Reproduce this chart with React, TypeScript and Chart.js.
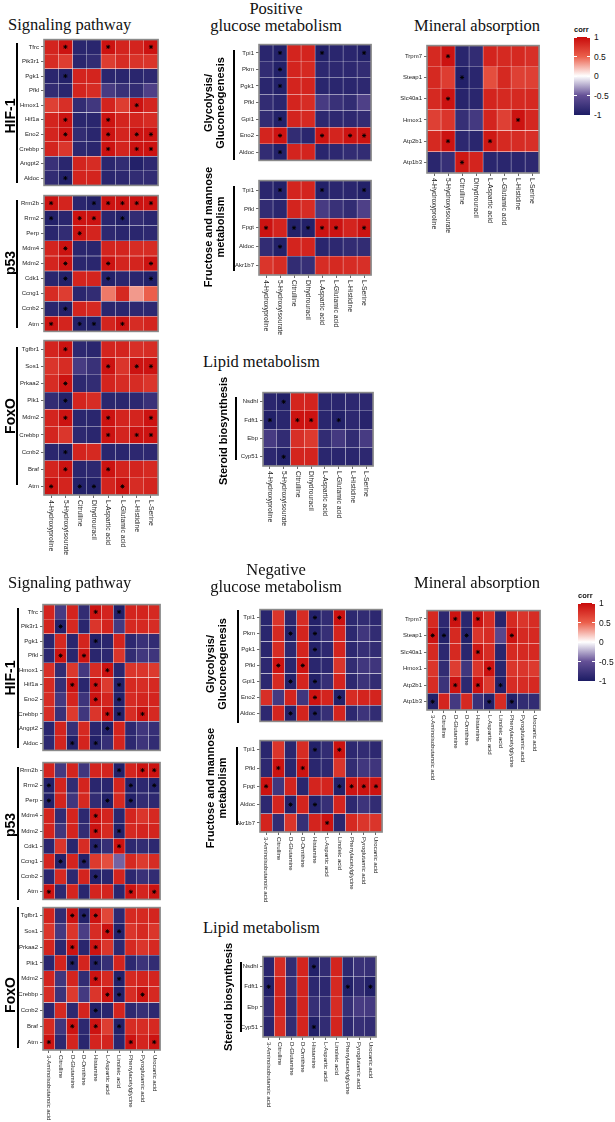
import React, { useEffect, useRef } from 'react';
import { Chart, registerables } from 'chart.js';

Chart.register(...registerables);
Chart.defaults.font.family = '"Liberation Sans", Arial, sans-serif';

// ---------- categories ----------
const posCols = ['4-Hydroxyproline', '5-Hydroxyisourate', 'Citrulline', 'Dihydrouracil', 'L-Aspartic acid', 'L-Glutamic acid', 'L-Histidine', 'L-Serine'];
const negCols = ['3-Aminoisobutanoic acid', 'Citrulline', 'D-Glutamine', 'D-Ornithine', 'Histamine', 'L-Aspartic acid', 'Linoleic acid', 'Phenylacetylglycine', 'Pyroglutamic acid', 'Urocanic acid'];

const hif1Genes = ['Tfrc', 'Pik3r1', 'Pgk1', 'Pfkl', 'Hmox1', 'Hif1a', 'Eno2', 'Crebbp', 'Angpt2', 'Aldoc'];
const p53Genes = ['Rrm2b', 'Rrm2', 'Perp', 'Mdm4', 'Mdm2', 'Cdk1', 'Ccng1', 'Ccnb2', 'Atm'];
const foxoGenes = ['Tgfbr1', 'Sos1', 'Prkaa2', 'Plk1', 'Mdm2', 'Crebbp', 'Ccnb2', 'Braf', 'Atm'];
const glyGenes = ['Tpi1', 'Pkm', 'Pgk1', 'Pfkl', 'Gpi1', 'Eno2', 'Aldoc'];
const fruGenes = ['Tpi1', 'Pfkl', 'Fpgt', 'Aldoc', 'Akr1b7'];
const sterGenes = ['Nsdhl', 'Fdft1', 'Ebp', 'Cyp51'];
const minGenes = ['Trpm7', 'Steap1', 'Slc40a1', 'Hmox1', 'Atp2b1', 'Atp1b3'];

const legendTicks = [1, 0.5, 0, -0.5, -1];

// ---------- positive correlations ----------
const posHif1Values = [
  [0.85, 0.95, -0.9, -0.9, 0.95, 0.85, 0.85, 0.95],
  [0.8, 0.7, -0.9, -0.85, 0.7, 0.8, 0.76, 0.75],
  [-0.9, -0.95, 0.85, 0.85, -0.9, -0.9, -0.9, -0.88],
  [-0.85, -0.9, 0.85, 0.8, -0.7, -0.8, -0.85, -0.65],
  [0.68, 0.78, -0.85, -0.74, 0.85, 0.7, 0.95, 0.84],
  [0.85, 0.95, -0.9, -0.9, 0.95, 0.85, 0.85, 0.8],
  [0.85, 0.95, -0.85, -0.9, 0.95, 0.85, 0.95, 0.95],
  [0.84, 0.74, -0.88, -0.9, 0.95, 0.85, 0.95, 0.95],
  [-0.8, -0.9, 0.85, 0.8, -0.9, -0.85, -0.95, -0.88],
  [-0.85, -0.95, 0.85, 0.85, -0.9, -0.88, -0.85, -0.85],
];
const posHif1Stars = [[1, 4, 7], [], [1], [], [6], [1, 4], [1, 4, 6, 7], [4, 6, 7], [], [1]];

const posP53Values = [
  [0.95, 0.85, -0.9, -0.95, 0.95, 0.95, 0.95, 0.95],
  [-0.95, -0.9, 0.95, 0.95, -0.9, -0.95, -0.85, -0.9],
  [-0.9, -0.85, 0.95, 0.85, -0.88, -0.9, -0.9, -0.88],
  [0.85, 0.95, -0.9, -0.9, 0.85, 0.85, 0.8, 0.8],
  [0.85, 0.95, -0.9, -0.9, 0.95, 0.85, 0.85, 0.95],
  [-0.9, -0.95, 0.85, 0.85, -0.95, -0.9, -0.9, -0.95],
  [0.8, 0.7, -0.9, -0.85, 0.42, 0.82, 0.32, 0.5],
  [-0.9, -0.95, 0.85, 0.82, -0.9, -0.9, -0.88, -0.88],
  [0.95, 0.85, -0.95, -0.95, 0.85, 0.95, 0.8, 0.85],
];
const posP53Stars = [[0, 3, 4, 5, 6, 7], [0, 2, 3, 5], [2], [1], [1, 4, 7], [1, 4, 7], [], [1], [0, 2, 3, 5]];

const posFoxoValues = [
  [0.85, 0.95, -0.88, -0.9, 0.85, 0.85, 0.78, 0.8],
  [0.75, 0.8, -0.7, -0.8, 0.95, 0.75, 0.95, 0.95],
  [0.8, 0.95, -0.88, -0.85, 0.85, 0.8, 0.8, 0.75],
  [-0.85, -0.95, 0.85, 0.8, -0.9, -0.9, -0.88, -0.8],
  [0.85, 0.95, -0.9, -0.9, 0.95, 0.85, 0.85, 0.95],
  [0.84, 0.74, -0.88, -0.9, 0.95, 0.85, 0.95, 0.95],
  [-0.9, -0.95, 0.85, 0.82, -0.9, -0.9, -0.88, -0.88],
  [0.85, 0.95, -0.9, -0.88, 0.95, 0.85, 0.85, 0.82],
  [0.95, 0.85, -0.95, -0.95, 0.85, 0.95, 0.8, 0.85],
];
const posFoxoStars = [[1], [4, 6, 7], [1], [1], [1, 4, 7], [4, 6, 7], [1], [1, 4], [0, 2, 3, 5]];

const posGlyValues = [
  [-0.9, -0.95, 0.85, 0.85, -0.95, -0.9, -0.9, -0.95],
  [-0.85, -0.95, 0.85, 0.82, -0.88, -0.88, -0.88, -0.85],
  [-0.9, -0.95, 0.85, 0.85, -0.9, -0.9, -0.9, -0.88],
  [-0.85, -0.9, 0.85, 0.8, -0.7, -0.8, -0.85, -0.65],
  [-0.85, -0.95, 0.85, 0.82, -0.88, -0.88, -0.88, -0.85],
  [0.85, 0.95, -0.85, -0.9, 0.95, 0.85, 0.95, 0.95],
  [-0.85, -0.95, 0.85, 0.85, -0.9, -0.88, -0.85, -0.85],
];
const posGlyStars = [[1, 4, 7], [1], [1], [], [1], [1, 4, 6, 7], [1]];

const posFruValues = [
  [-0.9, -0.95, 0.85, 0.85, -0.95, -0.9, -0.9, -0.95],
  [-0.85, -0.9, 0.85, 0.8, -0.7, -0.8, -0.85, -0.65],
  [0.95, 0.85, -0.95, -0.95, 0.95, 0.95, 0.85, 0.95],
  [-0.85, -0.95, 0.85, 0.85, -0.9, -0.88, -0.85, -0.85],
  [0.75, 0.8, -0.85, -0.82, 0.8, 0.82, 0.8, 0.78],
];
const posFruStars = [[1, 4, 7], [], [0, 2, 3, 4, 5, 7], [1], []];

const posSterValues = [
  [-0.9, -0.95, 0.85, 0.85, -0.9, -0.9, -0.88, -0.88],
  [-0.95, -0.9, 0.95, 0.95, -0.9, -0.95, -0.88, -0.92],
  [-0.7, -0.85, 0.78, 0.72, -0.85, -0.72, -0.85, -0.7],
  [-0.88, -0.95, 0.85, 0.85, -0.9, -0.9, -0.9, -0.88],
];
const posSterStars = [[1], [0, 2, 3, 5], [], [1]];

const posMinValues = [
  [0.82, 0.95, -0.9, -0.85, 0.85, 0.82, 0.82, 0.78],
  [0.82, 0.7, -0.95, -0.9, 0.6, 0.82, 0.68, 0.68],
  [0.82, 0.95, -0.92, -0.9, 0.85, 0.82, 0.82, 0.82],
  [0.68, 0.75, -0.82, -0.72, 0.85, 0.68, 0.95, 0.83],
  [0.82, 0.95, -0.88, -0.9, 0.92, 0.82, 0.8, 0.78],
  [-0.9, -0.82, 0.92, 0.85, -0.9, -0.9, -0.9, -0.88],
];
const posMinStars = [[1], [2], [1], [6], [1, 4], [2]];

// ---------- negative correlations ----------
const negHif1Values = [
  [0.85, -0.7, 0.85, -0.85, 0.95, 0.85, -0.95, 0.85, 0.85, 0.82],
  [0.85, -0.95, 0.82, -0.9, 0.75, 0.85, -0.72, 0.82, 0.82, 0.8],
  [-0.9, 0.82, -0.9, 0.85, -0.95, -0.9, 0.85, -0.88, -0.8, -0.85],
  [-0.88, 0.95, -0.9, 0.95, -0.9, -0.88, 0.75, -0.85, -0.74, -0.76],
  [0.78, -0.85, 0.73, -0.73, 0.8, 0.95, -0.9, 0.75, 0.75, 0.72],
  [0.82, -0.82, 0.95, -0.9, 0.95, 0.72, -0.95, 0.82, 0.8, 0.82],
  [0.8, -0.72, 0.85, -0.77, 0.95, 0.85, -0.95, 0.81, 0.85, 0.85],
  [0.8, -0.8, 0.72, -0.75, 0.75, 0.95, -0.95, 0.8, 0.95, 0.82],
  [-0.9, 0.85, -0.82, 0.82, -0.9, -0.95, 0.85, -0.88, -0.75, -0.82],
  [-0.88, 0.85, -0.95, 0.85, -0.95, -0.82, 0.85, -0.88, -0.77, -0.85],
];
const negHif1Stars = [[4, 6], [1], [4], [1, 3], [5], [2, 4, 6], [4, 6], [5, 6, 8], [5], [2, 4]];

const negP53Values = [
  [0.85, -0.72, 0.85, -0.75, 0.85, 0.85, -0.95, 0.85, 0.95, 0.95],
  [-0.95, 0.85, -0.85, 0.85, -0.9, -0.9, 0.85, -0.95, -0.88, -0.95],
  [-0.95, 0.85, -0.75, 0.82, -0.85, -0.95, 0.82, -0.95, -0.85, -0.88],
  [0.85, -0.85, 0.85, -0.88, 0.95, 0.85, -0.9, 0.85, 0.75, 0.82],
  [0.85, -0.75, 0.85, -0.85, 0.95, 0.82, -0.95, 0.82, 0.85, 0.85],
  [-0.9, 0.75, -0.9, 0.8, -0.95, -0.82, 0.95, -0.88, -0.85, -0.88],
  [0.85, -0.95, 0.85, -0.95, 0.72, 0.6, -0.45, 0.82, 0.72, 0.8],
  [-0.9, 0.82, -0.88, 0.85, -0.95, -0.9, 0.85, -0.88, -0.8, -0.85],
  [0.95, -0.88, 0.85, -0.9, 0.85, 0.85, -0.9, 0.95, 0.85, 0.95],
];
const negP53Stars = [[6, 8, 9], [0, 7, 9], [0, 5, 7], [4], [4, 6], [4, 6], [1, 3], [4], [0, 7, 9]];

const negFoxoValues = [
  [0.85, -0.85, 0.95, -0.95, 0.95, 0.65, -0.88, 0.82, 0.82, 0.85],
  [0.75, -0.72, 0.75, -0.68, 0.8, 0.95, -0.95, 0.75, 0.82, 0.75],
  [0.85, -0.88, 0.95, -0.9, 0.95, 0.75, -0.88, 0.82, 0.75, 0.82],
  [-0.9, 0.85, -0.95, 0.85, -0.95, -0.82, 0.85, -0.88, -0.78, -0.85],
  [0.85, -0.75, 0.85, -0.85, 0.95, 0.82, -0.95, 0.82, 0.85, 0.85],
  [0.8, -0.78, 0.72, -0.72, 0.75, 0.95, -0.95, 0.8, 0.95, 0.82],
  [-0.9, 0.82, -0.88, 0.85, -0.95, -0.9, 0.85, -0.88, -0.82, -0.88],
  [0.82, -0.75, 0.95, -0.88, 0.95, 0.7, -0.95, 0.8, 0.8, 0.82],
  [0.95, -0.88, 0.85, -0.9, 0.85, 0.85, -0.9, 0.95, 0.85, 0.95],
];
const negFoxoStars = [[2, 3, 4], [5, 6], [2, 4], [2, 4], [4, 6], [5, 6, 8], [4], [2, 4, 6], [0, 7, 9]];

const negGlyValues = [
  [-0.9, 0.75, -0.9, 0.8, -0.95, -0.85, 0.95, -0.88, -0.85, -0.88],
  [-0.9, 0.82, -0.95, 0.85, -0.95, -0.82, 0.85, -0.88, -0.75, -0.85],
  [-0.9, 0.8, -0.88, 0.85, -0.95, -0.88, 0.85, -0.88, -0.82, -0.85],
  [-0.88, 0.95, -0.9, 0.95, -0.9, -0.88, 0.75, -0.85, -0.74, -0.76],
  [-0.88, 0.82, -0.95, 0.85, -0.95, -0.82, 0.85, -0.88, -0.78, -0.85],
  [0.78, -0.72, 0.85, -0.75, 0.95, 0.85, -0.95, 0.8, 0.85, 0.85],
  [-0.88, 0.85, -0.95, 0.85, -0.95, -0.82, 0.85, -0.88, -0.77, -0.85],
];
const negGlyStars = [[4, 6], [2, 4], [4], [1, 3], [2, 4], [4, 6], [2, 4]];

const negFruValues = [
  [-0.9, 0.75, -0.9, 0.8, -0.95, -0.85, 0.95, -0.88, -0.85, -0.88],
  [-0.88, 0.95, -0.9, 0.95, -0.9, -0.88, 0.75, -0.85, -0.74, -0.76],
  [0.95, -0.75, 0.85, -0.9, 0.85, 0.85, -0.95, 0.95, 0.95, 0.95],
  [-0.88, 0.85, -0.95, 0.85, -0.95, -0.82, 0.85, -0.88, -0.77, -0.85],
  [0.85, -0.85, 0.75, -0.82, 0.85, 0.95, -0.9, 0.82, 0.75, 0.75],
];
const negFruStars = [[4, 6], [1, 3], [0, 6, 7, 8, 9], [2, 4], [5]];

const negSterValues = [
  [-0.9, 0.8, -0.85, 0.85, -0.95, -0.85, 0.85, -0.88, -0.8, -0.82],
  [-0.95, 0.85, -0.82, 0.85, -0.88, -0.88, 0.82, -0.95, -0.85, -0.95],
  [-0.85, 0.85, -0.85, 0.85, -0.82, -0.85, 0.8, -0.82, -0.7, -0.72],
  [-0.9, 0.8, -0.85, 0.85, -0.95, -0.85, 0.85, -0.88, -0.82, -0.85],
];
const negSterStars = [[4], [0, 7, 9], [], [4]];

const negMinValues = [
  [0.82, -0.88, 0.95, -0.9, 0.95, 0.8, -0.92, 0.82, 0.75, 0.8],
  [0.95, -0.95, 0.82, -0.95, 0.75, 0.8, -0.6, 0.95, 0.82, 0.82],
  [0.82, -0.88, 0.82, -0.9, 0.92, 0.8, -0.9, 0.82, 0.82, 0.82],
  [0.75, -0.85, 0.7, -0.75, 0.75, 0.95, -0.9, 0.75, 0.75, 0.72],
  [0.8, -0.78, 0.95, -0.88, 0.95, 0.72, -0.95, 0.8, 0.8, 0.82],
  [-0.95, 0.85, -0.72, 0.82, -0.8, -0.95, 0.8, -0.95, -0.85, -0.85],
];
const negMinStars = [[2, 4], [0, 1, 3, 7], [4], [5], [2, 4, 6], [0, 5, 7]];

// ---------- colour scale ----------
const STOPS: [number, number[]][] = [
  [-1, [28, 28, 100]],
  [-0.5, [100, 80, 150]],
  [0, [255, 255, 255]],
  [0.5, [235, 95, 75]],
  [1, [200, 10, 10]],
];
function corrColor(v: number): string {
  for (let k = 0; k < STOPS.length - 1; k++) {
    const [a, ca] = STOPS[k];
    const [b, cb] = STOPS[k + 1];
    if (v >= a && v <= b) {
      const t = (v - a) / (b - a);
      const c = ca.map((x, i) => Math.round(x + (cb[i] - x) * t));
      return `rgb(${c[0]},${c[1]},${c[2]})`;
    }
  }
  return v < 0 ? 'rgb(28,28,100)' : 'rgb(200,10,10)';
}

const SANS = '"Liberation Sans", Arial, sans-serif';
const SERIF = '"Liberation Serif", "Times New Roman", serif';

const framePlugin = {
  id: 'hmFrame',
  afterDatasetsDraw(chart: any) {
    const { ctx, chartArea: a } = chart;
    ctx.save();
    ctx.strokeStyle = '#8a8a8a';
    ctx.lineWidth = 1.6;
    ctx.strokeRect(a.left, a.top, a.right - a.left, a.bottom - a.top);
    ctx.restore();
  },
  afterDraw(chart: any, _args: any, opts: any) {
    if (!opts || !opts.show) return;
    const { ctx, chartArea: a } = chart;
    const xs = chart.scales.x;
    ctx.save();
    ctx.fillStyle = '#222';
    ctx.font = `${opts.font}px ${SANS}`;
    ctx.textAlign = 'left';
    ctx.textBaseline = 'middle';
    (opts.cols as string[]).forEach((c, j) => {
      const x = xs.getPixelForValue(j + 0.5);
      ctx.save();
      ctx.translate(x, a.bottom + 5);
      ctx.rotate(Math.PI / 2);
      ctx.fillText(c, 0, 0);
      ctx.restore();
    });
    ctx.restore();
  },
};

type HMProps = {
  genes: string[]; cols: string[]; values: number[][]; stars: number[][];
  left: number; top: number; w: number; h: number; showX: boolean; yFont: number; xFont: number;
};

function Heatmap(p: HMProps) {
  const ref = useRef<HTMLCanvasElement>(null);
  const YW = 48, PAD = 3, XH = 80;
  const cw = p.w + YW + PAD;
  const ch = p.h + PAD + (p.showX ? XH : PAD);
  useEffect(() => {
    if (!ref.current) return;
    const starPts: { x: number; y: string }[] = [];
    p.stars.forEach((row, i) => row.forEach((j) => starPts.push({ x: j + 0.5, y: p.genes[i] })));
    const datasets: any[] = [
      {
        type: 'scatter', data: starPts, order: -1, pointStyle: 'star', radius: 2.1,
        borderColor: '#000', backgroundColor: '#000', borderWidth: 0.9,
      },
    ];
    p.cols.forEach((_c, j) => {
      datasets.push({
        type: 'bar',
        data: p.genes.map(() => [j, j + 1]),
        backgroundColor: p.genes.map((_g, i) => corrColor(p.values[i][j])),
        borderColor: 'rgba(255,255,255,0.14)', borderWidth: 0.5, borderSkipped: false,
        grouped: false, barPercentage: 1, categoryPercentage: 1,
      });
    });
    const chart = new Chart(ref.current, {
      type: 'bar',
      data: { labels: p.genes, datasets },
      options: {
        indexAxis: 'y', responsive: false, animation: false, events: [],
        layout: { padding: { top: PAD, right: PAD, left: 0, bottom: 0 } },
        plugins: {
          legend: { display: false }, tooltip: { enabled: false },
          hmFrame: { show: p.showX, cols: p.cols, font: p.xFont },
        } as any,
        scales: {
          x: {
            type: 'linear', min: 0, max: p.cols.length,
            afterBuildTicks: (s: any) => { s.ticks = p.cols.map((_c, j) => ({ value: j + 0.5 })); },
            afterFit: (s: any) => { s.height = p.showX ? XH : PAD; },
            ticks: { display: false },
            grid: { drawOnChartArea: false, drawTicks: p.showX, tickLength: 3, color: '#444', lineWidth: 0.8 },
            border: { display: false },
          },
          y: {
            type: 'category', labels: p.genes, offset: true,
            afterFit: (s: any) => { s.width = YW; },
            ticks: { font: { size: p.yFont, family: SANS }, color: '#222', padding: 2, autoSkip: false },
            grid: { drawOnChartArea: false, offset: false, tickLength: 3, color: '#444', lineWidth: 0.8 },
            border: { display: false },
          },
        } as any,
      },
      plugins: [framePlugin as any],
    } as any);
    return () => chart.destroy();
  }, []);
  return (
    <canvas ref={ref} width={cw} height={ch}
      style={{ position: 'absolute', left: p.left - YW, top: p.top - PAD, width: cw, height: ch }} />
  );
}

function Title({ text, x, y, center }: { text: string; x: number; y: number; center?: boolean }) {
  return (
    <div style={{
      position: 'absolute', left: x, top: y - 10, height: 20, lineHeight: '20px',
      transform: center ? 'translateX(-50%)' : undefined, whiteSpace: 'nowrap',
      fontFamily: SERIF, fontSize: 16.5, color: '#111',
    }}>{text}</div>
  );
}

function VLabel({ lines, cx, cy, size }: { lines: string[]; cx: number; cy: number; size: number }) {
  return (
    <div style={{
      position: 'absolute', left: cx, top: cy, transform: 'translate(-50%,-50%) rotate(-90deg)',
      whiteSpace: 'nowrap', textAlign: 'center', fontFamily: SANS, fontWeight: 'bold',
      fontSize: size, lineHeight: `${Math.round(size * 1.12)}px`, color: '#000',
    }}>
      {lines.map((l, i) => <div key={i}>{l}</div>)}
    </div>
  );
}

function VLine({ x, y1, y2 }: { x: number; y1: number; y2: number }) {
  return <div style={{ position: 'absolute', left: x, top: y1, width: 1.5, height: y2 - y1, background: '#000' }} />;
}

function Legend({ x, y, w, h }: { x: number; y: number; w: number; h: number }) {
  const grad = `linear-gradient(to bottom, ${corrColor(1)} 0%, ${corrColor(0.5)} 25%, ${corrColor(0)} 50%, ${corrColor(-0.5)} 75%, ${corrColor(-1)} 100%)`;
  return (
    <>
      <div style={{ position: 'absolute', left: x, top: y - 12, fontFamily: SANS, fontSize: 7.5, fontWeight: 'bold', color: '#111' }}>corr</div>
      <div style={{ position: 'absolute', left: x, top: y, width: w, height: h, background: grad }} />
      {legendTicks.map((t, i) => {
        const ty = y + ((1 - t) / 2) * h;
        return (
          <React.Fragment key={i}>
            <div style={{ position: 'absolute', left: x, top: ty - 0.4, width: 3, height: 0.8, background: '#fff' }} />
            <div style={{ position: 'absolute', left: x + w - 3, top: ty - 0.4, width: 3, height: 0.8, background: '#fff' }} />
            <div style={{ position: 'absolute', left: x + w + 4, top: ty - 6, lineHeight: '12px', fontFamily: SANS, fontSize: 8.5, color: '#111' }}>{String(t)}</div>
          </React.Fragment>
        );
      })}
    </>
  );
}

export default function App() {
  return (
    <div style={{ position: 'absolute', left: 0, top: 0, width: 615, height: 1122, overflow: 'hidden', background: '#fff' }}>
      {/* ===== Positive ===== */}
      <Title text="Signaling pathway" x={8} y={25} />
      <Title text="Positive" x={276} y={9} center />
      <Title text="glucose metabolism" x={276} y={26} center />
      <Title text="Mineral absorption" x={477} y={26} center />
      <Title text="Lipid metabolism" x={203} y={362} />

      <Heatmap genes={hif1Genes} cols={posCols} values={posHif1Values} stars={posHif1Stars} left={44} top={37} w={116} h={151} showX={false} yFont={6} xFont={6.8} />
      <Heatmap genes={p53Genes} cols={posCols} values={posP53Values} stars={posP53Stars} left={44} top={193} w={116} h={141} showX={false} yFont={6} xFont={6.8} />
      <Heatmap genes={foxoGenes} cols={posCols} values={posFoxoValues} stars={posFoxoStars} left={44} top={338} w={116} h={157} showX={true} yFont={6} xFont={6.8} />
      <Heatmap genes={glyGenes} cols={posCols} values={posGlyValues} stars={posGlyStars} left={259} top={42} w={114} h={121} showX={false} yFont={6} xFont={6.8} />
      <Heatmap genes={fruGenes} cols={posCols} values={posFruValues} stars={posFruStars} left={259} top={178} w={114} h={97} showX={true} yFont={6} xFont={6.8} />
      <Heatmap genes={sterGenes} cols={posCols} values={posSterValues} stars={posSterStars} left={263} top={390} w={112} h={76} showX={true} yFont={6} xFont={6.8} />
      <Heatmap genes={minGenes} cols={posCols} values={posMinValues} stars={posMinStars} left={427} top={43} w={114} h={130} showX={true} yFont={6} xFont={6.8} />

      <VLabel lines={['HIF-1']} cx={10} cy={116} size={14} />
      <VLine x={16} y1={43} y2={183} />
      <VLabel lines={['p53']} cx={10} cy={263} size={14} />
      <VLine x={16} y1={200} y2={328} />
      <VLabel lines={['FoxO']} cx={10} cy={416} size={14} />
      <VLine x={16} y1={347} y2={485} />

      <VLabel lines={['Glycolysis/', 'Gluconeogenesis']} cx={214} cy={103} size={11} />
      <VLine x={233} y1={50} y2={160} />
      <VLabel lines={['Fructose and mannose', 'metabolism']} cx={214} cy={227} size={11} />
      <VLine x={233} y1={186} y2={271} />
      <VLabel lines={['Steroid biosynthesis']} cx={223} cy={431} size={11} />
      <VLine x={235} y1={397} y2={460} />

      <Legend x={574} y={37} w={16} h={78} />

      {/* ===== Negative ===== */}
      <Title text="Signaling pathway" x={8} y={583} />
      <Title text="Negative" x={276} y={570} center />
      <Title text="glucose metabolism" x={276} y={587} center />
      <Title text="Mineral absorption" x={477} y={583} center />
      <Title text="Lipid metabolism" x={203} y={928} />

      <Heatmap genes={hif1Genes} cols={negCols} values={negHif1Values} stars={negHif1Stars} left={43} top={602} w={119} h={151} showX={false} yFont={6} xFont={6} />
      <Heatmap genes={p53Genes} cols={negCols} values={negP53Values} stars={negP53Stars} left={43} top={760} w={119} h={142} showX={false} yFont={6} xFont={6} />
      <Heatmap genes={foxoGenes} cols={negCols} values={negFoxoValues} stars={negFoxoStars} left={43} top={905} w={119} h={145} showX={true} yFont={6} xFont={6} />
      <Heatmap genes={glyGenes} cols={negCols} values={negGlyValues} stars={negGlyStars} left={260} top={607} w={124} h={117} showX={false} yFont={6} xFont={6} />
      <Heatmap genes={fruGenes} cols={negCols} values={negFruValues} stars={negFruStars} left={260} top={738} w={124} h={94} showX={true} yFont={6} xFont={6} />
      <Heatmap genes={sterGenes} cols={negCols} values={negSterValues} stars={negSterStars} left={263} top={954} w={115} h={83} showX={true} yFont={6} xFont={6} />
      <Heatmap genes={minGenes} cols={negCols} values={negMinValues} stars={negMinStars} left={427} top={608} w={115} h={102} showX={true} yFont={6} xFont={6} />

      <VLabel lines={['HIF-1']} cx={10} cy={678} size={14} />
      <VLine x={17} y1={608} y2={748} />
      <VLabel lines={['p53']} cx={10} cy={825} size={14} />
      <VLine x={17} y1={767} y2={900} />
      <VLabel lines={['FoxO']} cx={10} cy={995} size={14} />
      <VLine x={17} y1={907} y2={1048} />

      <VLabel lines={['Glycolysis/', 'Gluconeogenesis']} cx={216} cy={664} size={11} />
      <VLine x={237} y1={610} y2={723} />
      <VLabel lines={['Fructose and mannose', 'metabolism']} cx={216} cy={788} size={11} />
      <VLine x={236} y1={747} y2={825} />
      <VLabel lines={['Steroid biosynthesis']} cx={228} cy={997} size={11} />
      <VLine x={240} y1={962} y2={1032} />

      <Legend x={578} y={603} w={17} h={78} />
    </div>
  );
}
